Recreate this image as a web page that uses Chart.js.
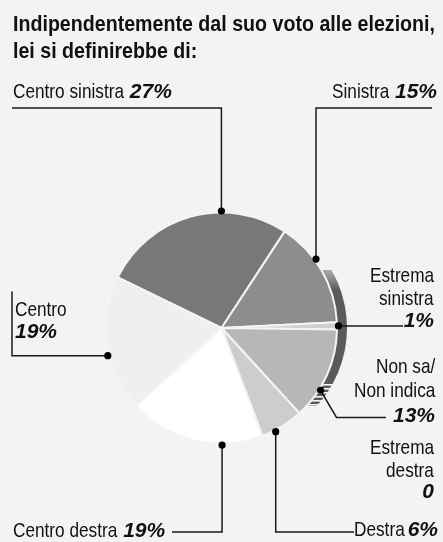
<!DOCTYPE html>
<html>
<head>
<meta charset="utf-8">
<script src="https://cdn.jsdelivr.net/npm/chart.js@4.4.1/dist/chart.umd.min.js"></script>
<style>
  html, body { margin: 0; padding: 0; background: #f3f3f3; }
  #wrap { position: relative; width: 443px; height: 542px; background: #f3f3f3; overflow: hidden; }
  #pie { position: absolute; left: 0; top: 0; }
  .ttl { position: absolute; left: 13px; margin: 0;
         font: bold 22px/27px "Liberation Sans", Arial, sans-serif; color: #111; white-space: nowrap; }
  .lbl { position: absolute; font: 21px/24px "Liberation Sans", Arial, sans-serif;
         color: #111; white-space: nowrap; }
  .lbl b { font: italic bold 21px/24px "Liberation Sans", Arial, sans-serif; }
  .nm { display: inline-block; text-align: left; white-space: nowrap; transform-origin: 0 50%; }
</style>
</head>
<body>
<div id="wrap">
  <canvas id="pie" width="443" height="542"></canvas>
</div>
<script>
// Survey answers: self-placement on the left-right scale (percent)
const titleLines = ['Indipendentemente dal suo voto alle elezioni,', 'lei si definirebbe di:'];
const categories = ['Centro sinistra', 'Sinistra', 'Estrema\nsinistra', 'Non sa/\nNon indica',
                    'Destra', 'Estrema\ndestra', 'Centro destra', 'Centro'];
const shares = [27, 15, 1, 13, 6, 0, 19, 19];

// Slice fills, one per category
const sliceColors = ['#787878', '#8d8d8d', '#cfcfcf', '#b7b7b7', '#cdcdcd', '#e8e8e8', '#ffffff', '#efefef'];

// Callout placement: where the dot sits along each slice's arc, where the text goes,
// and the bends of the leader line ('a' = reuse the dot's coordinate)
const callouts = [
  { frac: 0.658, align: 'left',  x: 13,  base: [98],            inline: true, path: [['a', 108], [12, 108]] },
  { frac: 0.383, align: 'right', x: 437, base: [98],            inline: true, path: [['a', 108], [432, 108]] },
  { frac: 0.5,   align: 'right', x: 434, base: [282, 305, 327], path: [[403, 'a']] },
  { frac: 0.67,  align: 'right', x: 435, base: [373, 397, 422], path: [[336.5, 417.5], [386, 417.5]] },
  { frac: 0.685, align: 'right', x: 438, base: [536],           inline: true, tight: true, path: [['a', 532], [354, 532]] },
  { frac: null,  align: 'right', x: 434, base: [454, 477, 498], path: [] },
  { frac: 0.30,  align: 'left',  x: 13,  base: [537],           inline: true, path: [['a', 532], [172, 532]] },
  { frac: 0.42,  align: 'left',  x: 15,  base: [316.7, 338],    path: [[12, 'a'], [12, 291.5]] }
];

const NARROW = 0.82;          // horizontal squeeze for the label face
const TITLE_WIDTH = 422;      // first title line spans this many px
const valueText = v => (v === 0 ? '0' : v + '%');
const wrap = document.getElementById('wrap');

function squeezed(text, k) {
  const s = document.createElement('span');
  s.className = 'nm';
  s.textContent = text;
  s.dataset.k = k;
  return s;
}

// Title
titleLines.forEach((t, k) => {
  const d = document.createElement('div');
  d.className = 'ttl';
  d.style.top = (10 + k * 27) + 'px';
  d.appendChild(squeezed(t, 'fit'));
  wrap.appendChild(d);
});

// Labels, built from the data arrays
const ASC = 19.3; // line-box top to baseline for 21px/24px
categories.forEach((name, i) => {
  const c = callouts[i];
  const nameLines = name.split('\n');
  const rows = c.inline ? [[nameLines.join(' '), true]] : nameLines.map(n => [n, false]).concat([[null, true]]);
  rows.forEach(([txt, withVal], k) => {
    const d = document.createElement('div');
    d.className = 'lbl';
    d.style.top = (c.base[k] - ASC) + 'px';
    if (c.align === 'left') { d.style.left = c.x + 'px'; }
    else { d.style.right = (443 - c.x) + 'px'; d.style.textAlign = 'right'; }
    if (txt !== null) d.appendChild(squeezed(txt, NARROW));
    if (withVal) {
      if (txt !== null) d.appendChild(document.createTextNode(c.tight ? '' : ' '));
      const b = document.createElement('b');
      b.textContent = valueText(shares[i]);
      if (c.tight && txt !== null) b.style.marginLeft = '3px';
      d.appendChild(b);
    }
    wrap.appendChild(d);
  });
});

// Squeeze the text spans horizontally while keeping their layout width honest
let fitK = null;
document.querySelectorAll('.nm').forEach(s => {
  const w = s.getBoundingClientRect().width;
  let k = s.dataset.k;
  if (k === 'fit') { if (fitK === null) fitK = TITLE_WIDTH / w; k = fitK; }
  k = +k;
  s.style.width = (w * k) + 'px';
  s.style.transform = 'scaleX(' + k + ')';
});

// Dark printed offset band on the right rim of the pie
const rimShadow = {
  id: 'rimShadow',
  beforeDatasetsDraw(chart) {
    const arc = chart.getDatasetMeta(0).data[0];
    if (!arc) return;
    const { x, y, outerRadius: r } = arc;
    const c = chart.ctx;
    c.save();
    c.beginPath();
    c.rect(x, y - 58, r + 20, 136);
    c.clip();
    const g = c.createLinearGradient(0, y - 58, 0, y + 78);
    g.addColorStop(0, 'rgba(110,110,110,0.55)');
    g.addColorStop(0.15, 'rgba(90,90,90,1)');
    g.addColorStop(1, 'rgba(90,90,90,1)');
    c.fillStyle = g;
    c.beginPath();
    c.arc(x + 10, y, r, 0, Math.PI * 2);
    c.fill();
    // striped lower end
    c.fillStyle = '#f3f3f3';
    for (let yy = y + 56; yy < y + 78; yy += 4) {
      c.fillRect(x, yy, r + 20, 1.6);
    }
    c.restore();
  }
};

// Leader lines with dots from each slice to its label
const leaders = {
  id: 'leaders',
  afterDatasetsDraw(chart) {
    const meta = chart.getDatasetMeta(0);
    const c = chart.ctx;
    c.save();
    c.strokeStyle = '#1a1a1a';
    c.fillStyle = '#000';
    c.lineWidth = 1.5;
    callouts.forEach((cfg, i) => {
      if (cfg.frac === null) return;
      const arc = meta.data[i];
      const ang = arc.startAngle + cfg.frac * (arc.endAngle - arc.startAngle);
      const rr = arc.outerRadius + 1.5;
      const ax = arc.x + Math.cos(ang) * rr;
      const ay = arc.y + Math.sin(ang) * rr;
      c.beginPath();
      c.moveTo(ax, ay);
      cfg.path.forEach(([qx, qy]) => {
        c.lineTo(qx === 'a' ? ax : qx, qy === 'a' ? ay : qy);
      });
      c.stroke();
      c.beginPath();
      c.arc(ax, ay, 3.6, 0, Math.PI * 2);
      c.fill();
    });
    c.restore();
  }
};

new Chart(document.getElementById('pie'), {
  type: 'pie',
  data: {
    labels: categories,
    datasets: [{
      data: shares,
      backgroundColor: sliceColors,
      borderColor: '#f4f4f4',
      borderWidth: 2,
      hoverOffset: 0
    }]
  },
  options: {
    responsive: false,
    animation: false,
    events: [],
    rotation: -64,
    radius: 115.5,
    layout: { padding: { top: 212, bottom: 98, left: 0, right: 0 } },
    plugins: { legend: { display: false }, tooltip: { enabled: false } }
  },
  plugins: [rimShadow, leaders]
});
</script>
</body>
</html>
